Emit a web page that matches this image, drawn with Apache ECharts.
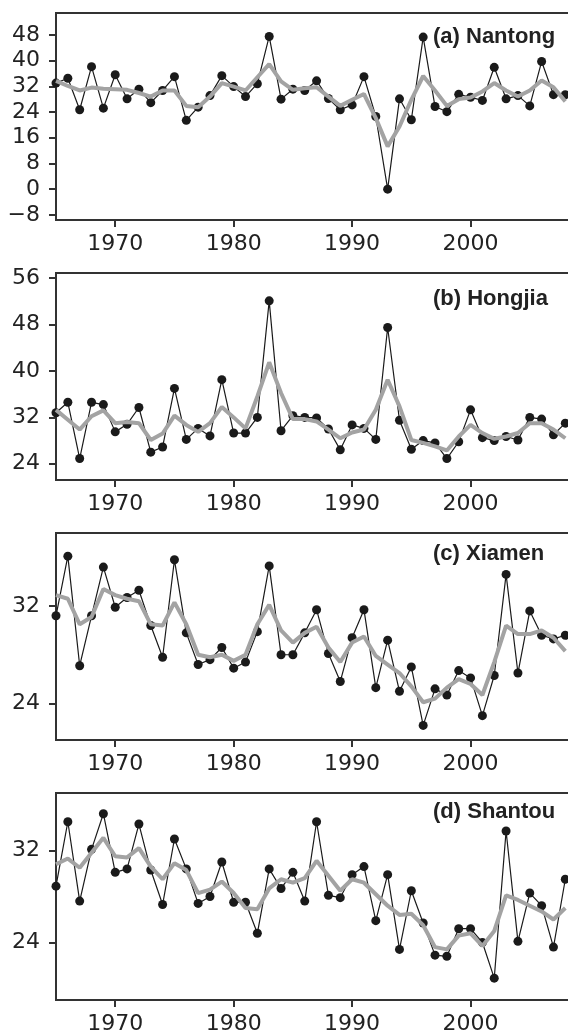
<!DOCTYPE html>
<html>
<head>
<meta charset="utf-8">
<script src="https://cdn.jsdelivr.net/npm/echarts@6/dist/echarts.min.js"></script>
<style>
  html, body { margin: 0; padding: 0; background: #fff; }
  #chart { width: 568px; height: 1034px; }
</style>
</head>
<body>
<div id="chart"></div>
<script>
// years of record
const years = [1965, 1966, 1967, 1968, 1969, 1970, 1971, 1972, 1973, 1974,
  1975, 1976, 1977, 1978, 1979, 1980, 1981, 1982, 1983, 1984,
  1985, 1986, 1987, 1988, 1989, 1990, 1991, 1992, 1993, 1994,
  1995, 1996, 1997, 1998, 1999, 2000, 2001, 2002, 2003, 2004,
  2005, 2006, 2007, 2008]

const stations = ['(a) Nantong', '(b) Hongjia', '(c) Xiamen', '(d) Shantou']

// annual values (black) and smoothed (grey)
const nantong = [33.0, 34.5, 24.7, 38.1, 25.2, 35.6, 28.1, 31.1, 26.9, 30.7,
  35.0, 21.4, 25.5, 29.1, 35.3, 31.9, 28.8, 32.8, 47.5, 28.0,
  31.1, 30.7, 33.7, 28.2, 24.7, 26.2, 35.0, 22.6, 0.0, 28.1,
  21.6, 47.3, 25.7, 24.1, 29.5, 28.6, 27.6, 37.9, 28.1, 29.1,
  25.9, 39.7, 29.4, 29.4]
const nantongSmooth = [33.7, 32.1, 30.7, 31.6, 31.2, 31.1, 30.9, 29.9, 28.8, 30.7,
  30.7, 25.9, 25.5, 28.8, 33.0, 31.9, 30.7, 34.8, 38.9, 33.5,
  30.9, 31.4, 31.7, 28.8, 25.9, 27.8, 29.6, 22.1, 13.3, 19.5,
  27.8, 35.2, 30.7, 25.9, 28.0, 28.5, 30.4, 33.0, 30.7, 28.8,
  30.7, 33.8, 31.7, 27.3]

const hongjia = [32.8, 34.6, 24.9, 34.6, 34.2, 29.5, 30.8, 33.7, 26.0, 26.9,
  37.0, 28.2, 30.1, 28.8, 38.5, 29.3, 29.3, 32.0, 52.1, 29.7,
  32.3, 32.0, 31.9, 30.0, 26.4, 30.7, 30.1, 28.2, 47.5, 31.5,
  26.5, 28.0, 27.6, 24.9, 27.8, 33.3, 28.5, 28.0, 28.7, 28.1,
  32.0, 31.7, 29.0, 31.0]
const hongjiaSmooth = [33.3, 31.6, 29.9, 32.2, 33.2, 31.0, 31.2, 31.0, 28.1, 29.2,
  32.3, 30.7, 29.5, 31.0, 33.8, 32.0, 30.1, 35.6, 41.5, 36.2,
  31.7, 31.7, 31.3, 29.9, 28.4, 29.4, 29.9, 33.3, 38.5, 33.9,
  28.1, 27.6, 27.0, 26.3, 28.7, 30.7, 29.3, 28.3, 28.7, 29.3,
  31.0, 31.0, 29.9, 28.4]

const xiamen = [31.2, 36.1, 27.1, 31.2, 35.2, 31.9, 32.7, 33.3, 30.4, 27.8,
  35.8, 29.8, 27.2, 27.6, 28.6, 26.9, 27.4, 29.9, 35.3, 28.0,
  28.0, 29.8, 31.7, 28.1, 25.8, 29.4, 31.7, 25.3, 29.2, 25.0,
  27.0, 22.2, 25.2, 24.7, 26.7, 26.1, 23.0, 26.3, 34.6, 26.5,
  31.6, 29.6, 29.3, 29.6]
const xiamenSmooth = [32.9, 32.6, 30.5, 31.1, 33.4, 32.9, 32.6, 32.4, 30.5, 30.4,
  32.3, 30.5, 28.0, 27.8, 28.0, 27.5, 28.0, 30.5, 32.1, 30.0,
  29.0, 29.8, 30.3, 28.6, 27.4, 29.0, 29.5, 27.9, 27.2, 26.5,
  25.4, 24.1, 24.4, 25.3, 26.0, 25.6, 24.7, 27.4, 30.4, 29.7,
  29.7, 30.0, 29.4, 28.3]

const shantou = [28.9, 34.5, 27.6, 32.1, 35.2, 30.1, 30.4, 34.3, 30.3, 27.3,
  33.0, 30.4, 27.4, 28.0, 31.0, 27.5, 27.5, 24.8, 30.4, 28.7,
  30.1, 27.6, 34.5, 28.1, 27.9, 29.9, 30.6, 25.9, 29.9, 23.4,
  28.5, 25.7, 22.9, 22.8, 25.2, 25.2, 24.0, 20.9, 33.7, 24.1,
  28.3, 27.2, 23.6, 29.5]
const shantouSmooth = [30.8, 31.3, 30.5, 31.8, 33.1, 31.5, 31.4, 32.2, 30.6, 29.5,
  30.9, 30.3, 28.3, 28.6, 29.3, 28.3, 27.0, 26.9, 28.7, 29.5,
  29.2, 29.6, 31.1, 29.8, 28.5, 29.5, 29.2, 28.2, 27.2, 26.4,
  26.5, 25.5, 23.6, 23.4, 24.6, 24.8, 23.7, 25.0, 28.1, 27.7,
  27.2, 26.7, 26.0, 27.0]

// y tick labels per panel
const yTicks = [
  [-8, 0, 8, 16, 24, 32, 40, 48],
  [24, 32, 40, 48, 56],
  [24, 32],
  [24, 32]
]
const xTicks = [1970, 1980, 1990, 2000, 2010]

const annual = [nantong, hongjia, xiamen, shantou]
const smooth = [nantongSmooth, hongjiaSmooth, xiamenSmooth, shantouSmooth]
const yRange = [[-9.6, 54.8], [21.2, 56.9], [21, 38], [19, 37]]
const gridTops = [13, 273, 533, 793]
const titleTops = [26, 288, 543, 801]

const axisColor = '#333'
const labelFont = 'DejaVu Sans'

const pairs = (vals) => years.map((y, i) => [y, vals[i]])

const chart = echarts.init(document.getElementById('chart'))

// plot area runs past the right edge of the page (frame cut off there)
const grid = gridTops.map(top => ({
  left: 56,
  top: top,
  height: 207,
  width: 533,
  outerBoundsMode: 'none',
  show: true,
  borderColor: axisColor,
  borderWidth: 2,
  backgroundColor: 'transparent'
}))

const xAxis = gridTops.map((t, i) => ({
  type: 'value',
  gridIndex: i,
  min: 1965,
  max: 2010,
  splitLine: { show: false },
  axisLine: { show: true, onZero: false, lineStyle: { color: axisColor, width: 2 } },
  axisTick: {
    show: true,
    length: 7,
    customValues: xTicks,
    lineStyle: { color: axisColor, width: 2 }
  },
  axisLabel: {
    customValues: xTicks.slice(0, 4),
    margin: 13,
    fontSize: 22,
    fontFamily: labelFont,
    color: '#222',
    formatter: (v) => String(v)
  }
}))

const yAxis = gridTops.map((t, i) => ({
  type: 'value',
  gridIndex: i,
  min: yRange[i][0],
  max: yRange[i][1],
  splitLine: { show: false },
  axisLine: { show: true, onZero: false, lineStyle: { color: axisColor, width: 2 } },
  axisTick: {
    show: true,
    length: 7,
    customValues: yTicks[i],
    lineStyle: { color: axisColor, width: 2 }
  },
  axisLabel: {
    customValues: yTicks[i],
    margin: 16,
    fontSize: 22,
    fontFamily: labelFont,
    color: '#222',
    formatter: (v) => String(v).replace('-', '\u2212')
  }
}))

const series = []
annual.forEach((vals, i) => {
  series.push({
    type: 'line',
    xAxisIndex: i,
    yAxisIndex: i,
    data: pairs(vals),
    symbol: 'circle',
    symbolSize: 9,
    itemStyle: { color: '#1a1a1a' },
    lineStyle: { color: '#1a1a1a', width: 1.2 },
    z: 2
  })
  series.push({
    type: 'line',
    xAxisIndex: i,
    yAxisIndex: i,
    data: pairs(smooth[i]),
    symbol: 'none',
    lineStyle: { color: '#a3a3a3', width: 4 },
    z: 3
  })
})

const title = stations.map((name, i) => ({
  text: name,
  left: 433,
  top: titleTops[i],
  padding: 0,
  textStyle: {
    fontFamily: 'Liberation Sans',
    fontWeight: 'bold',
    fontSize: 22,
    color: '#222'
  }
}))

chart.setOption({
  animation: false,
  title: title,
  grid: grid,
  xAxis: xAxis,
  yAxis: yAxis,
  series: series
})
</script>
</body>
</html>
